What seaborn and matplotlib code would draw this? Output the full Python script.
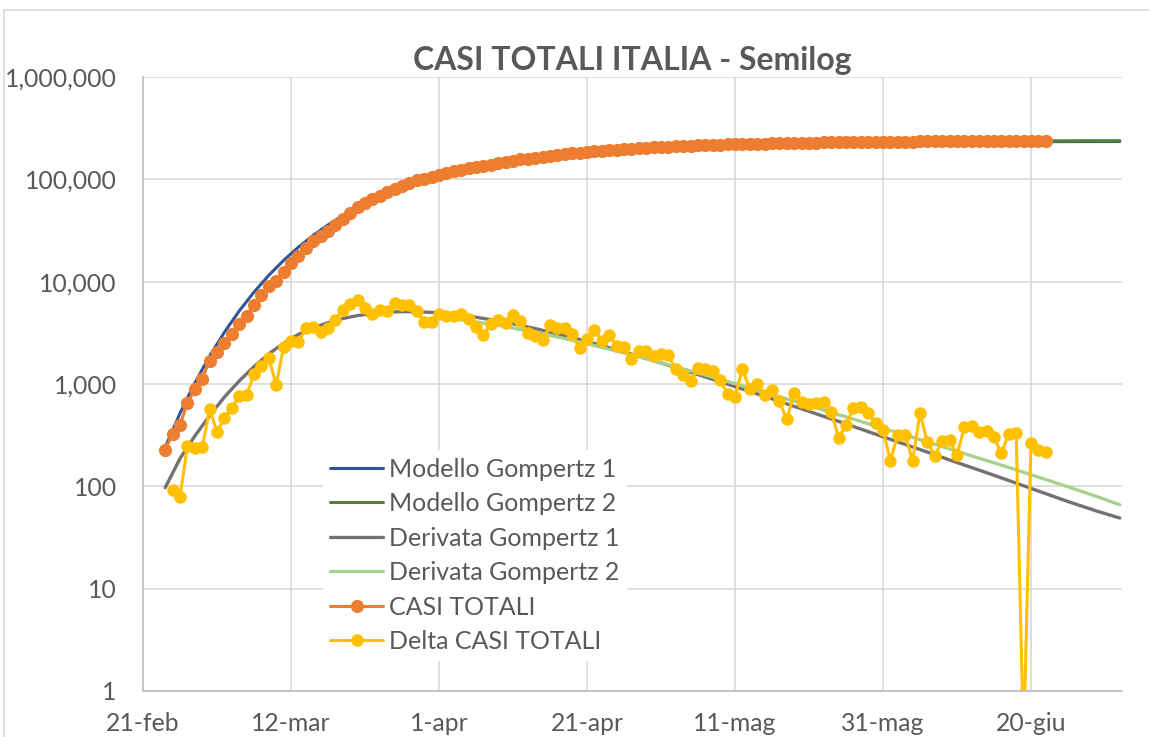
import numpy as np
import pandas as pd
import seaborn as sns
import matplotlib.pyplot as plt
from matplotlib.lines import Line2D
from matplotlib.ticker import FuncFormatter, NullLocator, FixedLocator

# giorno 0 = 21 febbraio 2020
start = pd.Timestamp("2020-02-21")

# CASI TOTALI dal 24-feb al 22-giu
casi_totali = [
    229, 322, 400, 650, 888, 1128,
    1694, 2036, 2502, 3089, 3858, 4636, 5883, 7375, 9172, 10149, 12462, 15113,
    17660, 21157, 24747, 27980, 31506, 35713, 41035, 47021, 53578, 59138, 63927,
    69176, 74386, 80539, 86498, 92472, 97689, 101739, 105792,
    110574, 115242, 119827, 124632, 128948, 132547, 135586, 139422, 143626,
    147577, 152271, 156363, 159516, 162488, 165155, 168941, 172434, 175925,
    178972, 181228, 183957, 187327, 189973, 192994, 195351, 197675, 199414,
    201505, 203591, 205463,
    207428, 209328, 210717, 211938, 213013, 214457, 215858, 217185, 218268,
    219070, 219814, 221216, 222104, 223096, 223885, 224760, 225435, 225886,
    226699, 227364, 228006, 228658, 229327, 229858, 230158, 230555, 231139,
    231732, 232248, 232664, 233019,
    233197, 233515, 233836, 234013, 234531, 234801, 234998, 235278, 235561,
    235763, 236142, 236535, 236873, 237219, 237520, 237730, 238058, 238389,
    238241, 238505, 238729, 238947,
]

# Delta CASI TOTALI dal 25-feb al 22-giu (19-giu negativo: fuori scala)
delta_casi = [
    93, 78, 250, 238, 240,
    566, 342, 466, 587, 769, 778, 1247, 1492, 1797, 977, 2313, 2651, 2547,
    3497, 3590, 3233, 3526, 4207, 5322, 5986, 6557, 5560, 4789, 5249, 5210,
    6153, 5959, 5974, 5217, 4050, 4053,
    4782, 4668, 4585, 4805, 4316, 3599, 3039, 3836, 4204, 3951, 4694, 4092,
    3153, 2972, 2667, 3786, 3493, 3491, 3047, 2256, 2729, 3370, 2646, 3021,
    2357, 2324, 1739, 2091, 2086, 1872,
    1965, 1900, 1389, 1221, 1075, 1444, 1401, 1327, 1083, 802, 744, 1402,
    888, 992, 789, 875, 675, 451, 813, 665, 642, 652, 669, 531, 300, 397,
    584, 593, 516, 416, 355,
    178, 318, 321, 177, 518, 270, 197, 280, 283, 202, 379, 393, 338, 346,
    301, 210, 328, 331, 0.3, 264, 224, 218,
]

# modello 1 (giorni dal 21-feb)
g1_day = list(range(3, 42, 2)) + list(range(45, 130, 4)) + [132]
g1_modello = [
    240, 517, 1023, 1871, 3204, 5168, 7905, 11540, 16130, 21740,
    28330, 35860, 44200, 53230, 62800, 72740, 82880, 93080, 103180, 113080,
    131870, 148910, 163900, 176800, 187690, 196780, 204260, 210370, 215320, 219320,
    222530, 225090, 227140, 228770, 230070, 231090, 231910, 232560, 233070, 233470,
    233790, 234050, 234200,
]
g1_derivata = [
    97, 187, 310, 490, 745, 1070, 1480, 1970, 2500, 3053,
    3536, 3977, 4358, 4664, 4889, 5033, 5096, 5086, 5011, 4880,
    4495, 4009, 3484, 2969, 2489, 2061, 1690, 1374, 1111, 894,
    716, 572, 456, 363, 288, 229, 181, 144, 114, 90,
    71, 57, 49,
]

# modello 2
g2_day = [42] + list(range(45, 130, 4)) + [132]
g2_modello = [
    125600, 138150, 153540, 167200, 179160, 189440, 198210, 205590, 211760, 216880,
    221120, 224610, 227470, 229810, 231720, 233280, 234550, 235580, 236420, 237100,
    237650, 238100, 238460, 238690,
]
g2_derivata = [
    4310, 4045, 3636, 3204, 2776, 2376, 2010, 1686, 1405, 1164,
    960, 789, 646, 528, 431, 351, 286, 232, 188, 153,
    123, 99, 79, 66,
]

tick_day = [0, 20, 40, 60, 80, 100, 120]
tick_label = ["21-feb", "12-mar", "1-apr", "21-apr", "11-mag", "31-mag", "20-giu"]

sns.set_style("white")
plt.rcParams["font.family"] = ["Lato", "DejaVu Sans"]

def to_date(days):
    return start + pd.to_timedelta(days, unit="D")

date_tot = pd.date_range("2020-02-24", periods=len(casi_totali))
date_delta = pd.date_range("2020-02-25", periods=len(delta_casi))

fig = plt.figure(figsize=(11.49, 7.37), dpi=100)
ax = fig.add_axes([143 / 1149, 46 / 737, 979 / 1149, 614 / 737])

sns.lineplot(x=to_date(g1_day), y=g1_modello, ax=ax, color="#2F5597",
             linewidth=2.2, label="Modello Gompertz 1")
sns.lineplot(x=to_date(g2_day), y=g2_modello, ax=ax, color="#548235",
             linewidth=2.2, label="Modello Gompertz 2")
sns.lineplot(x=to_date(g1_day), y=g1_derivata, ax=ax, color="#767171",
             linewidth=2.4, label="Derivata Gompertz 1")
sns.lineplot(x=to_date(g2_day), y=g2_derivata, ax=ax, color="#A9D18E",
             linewidth=2.4, label="Derivata Gompertz 2")
sns.lineplot(x=date_tot, y=casi_totali, ax=ax, color="#ED7D31", linewidth=2.2,
             marker="o", markersize=9.5, markeredgewidth=0, label="CASI TOTALI")
sns.lineplot(x=date_delta, y=delta_casi, ax=ax, color="#FFC000", linewidth=2.2,
             marker="o", markersize=9, markeredgewidth=0, label="Delta CASI TOTALI")

ax.set_yscale("log")
ax.set_ylim(1, 1e6)
ax.yaxis.set_minor_locator(NullLocator())
ax.yaxis.set_major_locator(FixedLocator([1, 10, 100, 1e3, 1e4, 1e5, 1e6]))
ax.yaxis.set_major_formatter(FuncFormatter(lambda v, p: f"{v:,.0f}"))

ax.set_xlim(start, to_date(132.3))
ax.set_xticks(to_date(tick_day))
ax.set_xticklabels(tick_label)
ax.set_xlabel("")
ax.set_ylabel("")

ax.grid(True, color="#d9d9d9", linewidth=1.2)
ax.set_axisbelow(True)
for s in ["top", "right"]:
    ax.spines[s].set_visible(False)
for s in ["left", "bottom"]:
    ax.spines[s].set_color("#bfbfbf")
    ax.spines[s].set_linewidth(1.2)

ax.tick_params(axis="both", length=0, labelsize=17.8, labelcolor="#595959")
ax.tick_params(axis="x", pad=15)
ax.tick_params(axis="y", pad=19)

ax.set_title("CASI TOTALI ITALIA - Semilog", fontsize=23, fontweight="bold",
             color="#595959", pad=5)

leg = ax.legend(loc="upper left", bbox_to_anchor=(0.1834, 0.3925), frameon=True,
                fancybox=False, framealpha=1, facecolor="white", edgecolor="none",
                fontsize=18, handlelength=2.12, handletextpad=0.24,
                labelspacing=0.46, borderpad=0.3, borderaxespad=0)
for t in leg.get_texts():
    t.set_color("#595959")

# bordo dell'area del grafico
fig.add_artist(Line2D([4 / 1149, 4 / 1149], [0, 1 - 10 / 737],
                      color="#d9d9d9", lw=1.2, transform=fig.transFigure))
fig.add_artist(Line2D([4 / 1149, 1], [1 - 10 / 737, 1 - 10 / 737],
                      color="#d9d9d9", lw=1.2, transform=fig.transFigure))

fig.savefig("out.png", dpi=100)
